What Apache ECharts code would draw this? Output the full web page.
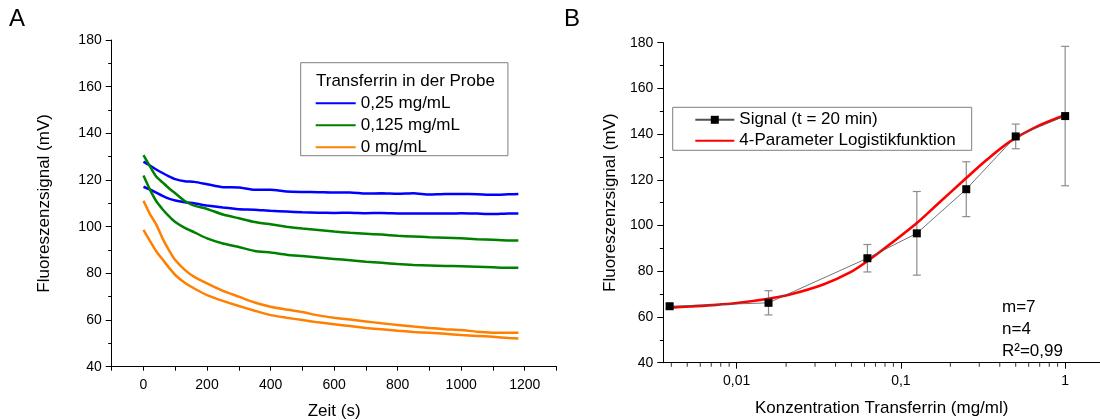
<!DOCTYPE html>
<html><head><meta charset="utf-8">
<script src="https://cdn.jsdelivr.net/npm/echarts@6/dist/echarts.min.js"></script>
<style>html,body{margin:0;padding:0;background:#fff}#c{width:1100px;height:420px}</style>
</head><body><div id="c"></div>
<script>
// ---- Panel A: kinetics ----
const timeS = [0,20,40,60,80,100,130,160,200,250,300,350,400,450,500,550,600,650,700,750,800,850,900,950,1000,1050,1100,1150,1180];
const blueHigh = [127.9,126.2,124.5,123.0,121.6,120.4,119.5,119.2,118.2,116.9,116.8,115.8,115.8,115.1,114.9,114.8,114.6,114.7,114.2,114.3,114.1,114.3,113.8,114.0,114.0,113.9,113.7,113.9,114.0];
const blueLow = [117.1,116.0,114.6,113.2,112.0,111.2,110.5,110.0,109.1,108.2,107.5,107.3,106.8,106.5,106.2,106.0,105.9,106.0,105.8,105.9,105.7,105.6,105.7,105.6,105.8,105.6,105.4,105.7,105.7];
const greenHigh = [130.7,126.0,121.5,119.0,116.5,114.3,111.0,109.0,107.6,105.2,103.6,102.0,101.0,100.0,99.2,98.6,97.9,97.4,97.0,96.6,96.1,95.8,95.5,95.3,95.0,94.6,94.4,94.1,94.1];
const greenLow = [121.9,116.0,111.0,107.5,104.5,102.0,99.5,97.6,95.0,92.8,91.3,89.6,88.9,88.0,87.4,86.8,86.2,85.6,85.0,84.5,84.0,83.6,83.4,83.2,83.0,82.8,82.6,82.4,82.4];
const orangeHigh = [111.1,105.5,101.0,95.0,90.0,85.7,81.5,78.5,75.7,72.5,70.0,67.5,65.7,64.5,63.4,62.0,61.0,60.2,59.4,58.6,57.9,57.2,56.6,56.1,55.7,55.0,54.6,54.5,54.5];
const orangeLow = [98.6,94.0,89.5,86.0,82.5,79.3,76.0,73.5,70.7,68.2,66.0,64.0,62.1,61.0,60.0,59.0,58.2,57.4,56.6,56.0,55.4,54.9,54.5,54.1,53.6,53.2,52.8,52.3,52.1];
const seriesNamesA = ['0,25 mg/mL','0,125 mg/mL','0 mg/mL'];

// ---- Panel B: dose response ----
const concentration = [0.00390625,0.015625,0.0625,0.125,0.25,0.5,1];
const signalMean = [64.7,66.2,85.7,96.6,115.9,139.0,147.9];
const signalErr = [1.0,5.3,6.0,18.3,12.0,5.4,30.5];
const fitConc = [0.0039,0.0052,0.0075,0.01,0.0156,0.0211,0.0337,0.049,0.0624,0.0857,0.1246,0.165,0.249,0.332,0.461,0.67,1.0];
const fitSignal = [64.1,64.6,65.3,66.1,68.0,69.8,74.2,79.5,84.4,91.8,101.0,109.0,120.7,128.7,136.7,143.3,148.4];
const logMinorTicks = [0.004,0.005,0.006,0.007,0.008,0.009,0.02,0.03,0.04,0.05,0.06,0.07,0.08,0.09,0.2,0.3,0.4,0.5,0.6,0.7,0.8,0.9];
const seriesNamesB = ['Signal (t = 20 min)','4-Parameter Logistikfunktion'];

const FONT = 'Liberation Sans, Arial, sans-serif';
const chart = echarts.init(document.getElementById('c'), null, {renderer:'canvas'});

function pair(xs, ys){ return xs.map((x,i)=>[x, ys[i]]); }
function lineA(name, ys, color){
  return {type:'line', name, xAxisIndex:0, yAxisIndex:0, data: pair(timeS, ys),
    symbol:'none', showSymbol:false, smooth:0.2,
    lineStyle:{color, width:2.5}, itemStyle:{color}};
}
function fmtLog(v){
  const l = Math.log10(v);
  if (Math.abs(l - Math.round(l)) > 1e-6) return '';
  return String(Number(v.toPrecision(6))).replace('.', ',');
}
const tickColor = '#000';
const axisCommon = {
  axisLine:{show:true, onZero:false, lineStyle:{color:'#000', width:1}},
  splitLine:{show:false},
  nameLocation:'middle',
  nameTextStyle:{fontSize:17, color:'#000', fontFamily:FONT},
};

chart.setOption({
  animation:false,
  backgroundColor:'#fff',
  textStyle:{fontFamily:FONT},
  title:[
    {text:'A', left:9, top:7, padding:0, textStyle:{fontSize:24, fontWeight:'normal', color:'#000', fontFamily:FONT}},
    {text:'B', left:564, top:7, padding:0, textStyle:{fontSize:24, fontWeight:'normal', color:'#000', fontFamily:FONT}},
    {text:'Transferrin in der Probe', left:316, top:73, padding:0, textStyle:{fontSize:17, fontWeight:'normal', color:'#000', fontFamily:FONT}}
  ],
  legend:[
    {data:seriesNamesA, orient:'vertical', left:300.7, top:62.7, padding:[32,48,0,14],
     itemWidth:40, itemHeight:10, itemGap:5, borderColor:'#7f7f7f', borderWidth:1,
     itemStyle:{opacity:0},
     selectedMode:false, textStyle:{fontSize:17, color:'#000', fontFamily:FONT}},
    {data:[seriesNamesB[0], {name:seriesNamesB[1], itemStyle:{opacity:0}}],
     orient:'vertical', left:672.7, top:107.3, padding:[4,16,1,21.6],
     itemWidth:39, itemHeight:10, itemGap:4, borderColor:'#7f7f7f', borderWidth:1,
     selectedMode:false, textStyle:{fontSize:17, color:'#000', fontFamily:FONT}}
  ],
  grid:[
    {left:111.7, top:40, right:543.5, bottom:53.3, containLabel:false, outerBoundsMode:'none'},
    {left:663.3, top:42.7, right:0, bottom:57.3, containLabel:false, outerBoundsMode:'none'}
  ],
  xAxis:[
    Object.assign({}, axisCommon, {type:'value', gridIndex:0, min:-100, max:1300, interval:100,
      axisTick:{show:true, length:4, lineStyle:{color:tickColor}},
      axisLabel:{fontSize:14, color:'#000', margin:11,
        formatter:v => (v>=0 && v<=1200 && v%200===0) ? String(v) : ''},
      name:'Zeit (s)', nameGap:36}),
    Object.assign({}, axisCommon, {type:'log', logBase:10, gridIndex:1, min:0.003575, max:1.63,
      axisTick:{show:true, length:6, lineStyle:{color:tickColor}},
      minorTick:{show:false},
      axisLabel:{fontSize:14, color:'#000', margin:11, showMinLabel:false, showMaxLabel:false, formatter:fmtLog},
      name:'Konzentration Transferrin (mg/ml)', nameGap:37})
  ],
  yAxis:[
    Object.assign({}, axisCommon, {type:'value', gridIndex:0, min:40, max:180, interval:20,
      axisTick:{show:true, length:6, lineStyle:{color:tickColor}},
      minorTick:{show:true, splitNumber:2, length:3.5, lineStyle:{color:tickColor}},
      axisLabel:{fontSize:14, color:'#000', margin:10},
      name:'Fluoreszenzsignal (mV)', nameGap:59, nameRotate:90}),
    Object.assign({}, axisCommon, {type:'value', gridIndex:1, min:40, max:180, interval:20,
      axisTick:{show:true, length:6, lineStyle:{color:tickColor}},
      minorTick:{show:true, splitNumber:2, length:3.5, lineStyle:{color:tickColor}},
      axisLabel:{fontSize:14, color:'#000', margin:10},
      name:'Fluoreszenzsignal (mV)', nameGap:44, nameRotate:90})
  ],
  graphic:[
    {type:'text', left:1002, top:296, style:{text:'m=7\nn=4\nR²=0,99', fontSize:17, lineHeight:22, fill:'#000', font:'17px '+FONT}}
  ],
  series:[
    lineA(seriesNamesA[0], blueHigh, '#0000ff'),
    lineA(seriesNamesA[0], blueLow, '#0000ff'),
    lineA(seriesNamesA[1], greenHigh, '#008000'),
    lineA(seriesNamesA[1], greenLow, '#008000'),
    lineA(seriesNamesA[2], orangeHigh, '#ff8000'),
    lineA(seriesNamesA[2], orangeLow, '#ff8000'),
    {type:'custom', name:'errors', xAxisIndex:1, yAxisIndex:1, z:2, silent:true,
     data: concentration.map((c,i)=>[c, signalMean[i], signalErr[i]]),
     renderItem:(params, api)=>{
       const x = api.value(0), m = api.value(1), e = api.value(2);
       const top = api.coord([x, m+e]), bot = api.coord([x, m-e]);
       const st = {stroke:'#8c8c8c', lineWidth:1.2};
       const cw = 4;
       return {type:'group', children:[
         {type:'line', shape:{x1:top[0], y1:top[1], x2:bot[0], y2:bot[1]}, style:st},
         {type:'line', shape:{x1:top[0]-cw, y1:top[1], x2:top[0]+cw, y2:top[1]}, style:st},
         {type:'line', shape:{x1:bot[0]-cw, y1:bot[1], x2:bot[0]+cw, y2:bot[1]}, style:st}
       ]};
     }},
    {type:'line', name:seriesNamesB[1], xAxisIndex:1, yAxisIndex:1, z:3,
     data: pair(fitConc, fitSignal), smooth:0.3, symbol:'none', showSymbol:false,
     lineStyle:{color:'#ff0000', width:2.6}, itemStyle:{color:'#ff0000'}},
    {type:'line', name:seriesNamesB[0], xAxisIndex:1, yAxisIndex:1, z:4,
     data: pair(concentration, signalMean), symbol:'rect', symbolSize:8, showSymbol:true,
     lineStyle:{color:'#505050', width:0.8}, itemStyle:{color:'#000'}},
    {type:'scatter', name:'minorTicks', xAxisIndex:1, yAxisIndex:1, silent:true, clip:false, z:5,
     data: logMinorTicks.map(v=>[v, 40]), symbol:'rect', symbolSize:[1,4], symbolOffset:[0,2],
     itemStyle:{color:'#000'}}
  ]
});
</script>
</body></html>
